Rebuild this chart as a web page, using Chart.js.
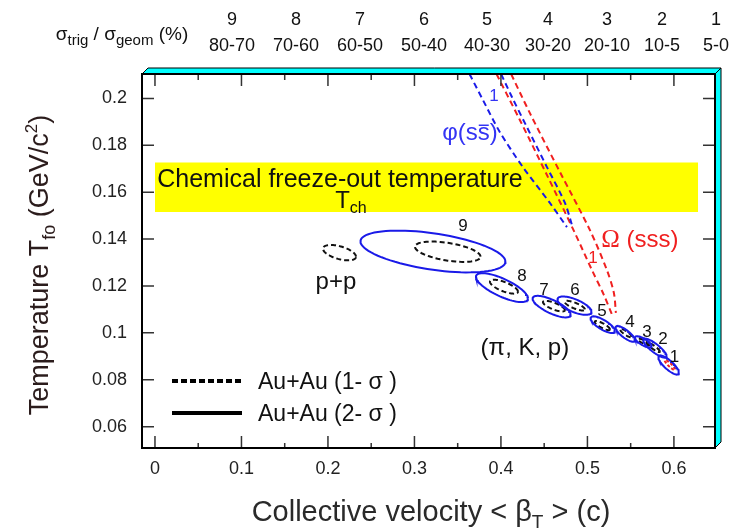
<!DOCTYPE html>
<html>
<head>
<meta charset="utf-8">
<title>Freeze-out temperature vs collective velocity</title>
<script src="https://cdn.jsdelivr.net/npm/chart.js@4.4.1/dist/chart.umd.min.js"></script>
<style>
  body { margin: 0; background: #fff; }
  canvas { display: block; }
</style>
</head>
<body>
<canvas id="jsChart" width="731" height="528"></canvas>
<script>
// tick values
const xTicks = [0, 0.1, 0.2, 0.3, 0.4, 0.5, 0.6];
const xMinorTicks = [0.05, 0.15, 0.25, 0.35, 0.45, 0.55];
const yTicks = [0.06, 0.08, 0.1, 0.12, 0.14, 0.16, 0.18, 0.2];

// centrality bins on top
const binNumbers = ['9', '8', '7', '6', '5', '4', '3', '2', '1'];
const binRanges = ['80-70', '70-60', '60-50', '50-40', '40-30', '30-20', '20-10', '10-5', '5-0'];

// Au+Au 2-sigma contours (bins 9 -> 1)
// centre, offset to right-most point (dx, dy), vertical half-chord at the centre
const sig2X = [0.3214, 0.4012, 0.4586, 0.485, 0.5177, 0.5437, 0.5645, 0.578, 0.5939];
const sig2Y = [0.1347, 0.1193, 0.1112, 0.1116, 0.1035, 0.0996, 0.0962, 0.0935, 0.0863];
const sig2Dx = [0.0838, 0.0301, 0.022, 0.0197, 0.0141, 0.0112, 0.0096, 0.0135, 0.0119];
const sig2Dy = [-0.0043, -0.0046, -0.0034, -0.0026, -0.0027, -0.0027, -0.0018, -0.0034, -0.0033];
const sig2H = [0.0078, 0.0041, 0.0031, 0.0029, 0.0023, 0.002, 0.0016, 0.0022, 0.0024];

// Au+Au 1-sigma contours (bins 9 -> 2)
const sig1X = [0.3385, 0.4035, 0.4613, 0.4855, 0.5173, 0.5445, 0.5653, 0.5761];
const sig1Y = [0.1346, 0.1197, 0.1114, 0.1116, 0.1031, 0.0999, 0.0961, 0.0939];
const sig1Dx = [0.0379, 0.0162, 0.0127, 0.0116, 0.0087, 0.0069, 0.0067, 0.0077];
const sig1Dy = [-0.0021, -0.0021, -0.0017, -0.0016, -0.0016, -0.0016, -0.0012, -0.0019];
const sig1H = [0.0038, 0.0021, 0.0015, 0.0013, 0.0011, 0.0009, 0.0008, 0.0009];

// p+p 1-sigma contour and the small red contour in bin 1
const ppContour = [0.2133, 0.1342, 0.0191, -0.0017, 0.0028];
const omegaBin1 = [0.5954, 0.0863, 0.006, -0.0019, 0.0009];

// phi and Omega 1-sigma bands (edges)
const phiLeftX = [0.3584, 0.3792, 0.3988, 0.4254, 0.4566, 0.4763];
const phiLeftY = [0.2142, 0.1993, 0.1856, 0.1707, 0.1554, 0.1451];
const phiRightX = [0.3954, 0.4127, 0.4301, 0.4532, 0.474, 0.4821];
const phiRightY = [0.2142, 0.2006, 0.1877, 0.1707, 0.1554, 0.146];
const omegaLeftX = [0.3896, 0.422, 0.4532, 0.4855, 0.5052, 0.5191, 0.5295];
const omegaLeftY = [0.2142, 0.1907, 0.1673, 0.1426, 0.1268, 0.1161, 0.1068];
const omegaRightX = [0.4069, 0.4335, 0.4682, 0.5029, 0.5225, 0.5306, 0.5329];
const omegaRightY = [0.2142, 0.1937, 0.1686, 0.1438, 0.1268, 0.117, 0.1085];

// chemical freeze-out band
const bandX = [0, 0.628];
const bandLow = 0.1515;
const bandHigh = 0.1727;

// text notes inside the plot (data coordinates of the text centre)
const binLabelX = [0.3561, 0.4243, 0.4497, 0.4855, 0.5168, 0.5491, 0.5688, 0.5873, 0.6006];
const binLabelY = [0.146, 0.1246, 0.1187, 0.1187, 0.1097, 0.1052, 0.1008, 0.098, 0.0903];

const FONT = '"Liberation Sans", Arial, sans-serif';
const SERIF = '"Liberation Serif", "Times New Roman", serif';
const BLUE = '#1a1ae8';
const RED = '#f02020';

// ellipse outline from centre / conjugate half-diameters
const contour = (cx, cy, dx, dy, h) => {
  const pts = [];
  for (let k = 0; k <= 80; k++) {
    const t = (k / 80) * 2 * Math.PI;
    pts.push({ x: cx + dx * Math.cos(t), y: cy + dy * Math.cos(t) + h * Math.sin(t) });
  }
  return pts;
};

const zip = (xs, ys) => xs.map((x, i) => ({ x: x, y: ys[i] }));

const lineSet = (data, color, dash, width) => ({
  data: data,
  showLine: true,
  borderColor: color,
  borderWidth: width,
  borderDash: dash,
  pointRadius: 0,
  pointHoverRadius: 0,
  fill: false,
  tension: 0,
});

const datasets = [];

// yellow band, drawn behind everything
datasets.push({
  data: [{ x: bandX[0], y: bandHigh }, { x: bandX[1], y: bandHigh }],
  showLine: true,
  borderWidth: 0,
  borderColor: 'rgba(0,0,0,0)',
  backgroundColor: '#ffff00',
  fill: { value: bandLow },
  pointRadius: 0,
  order: 10,
});

sig2X.forEach((cx, i) => {
  datasets.push(lineSet(contour(cx, sig2Y[i], sig2Dx[i], sig2Dy[i], sig2H[i]), BLUE, [], 2));
});
sig1X.forEach((cx, i) => {
  datasets.push(lineSet(contour(cx, sig1Y[i], sig1Dx[i], sig1Dy[i], sig1H[i]), '#111', [5, 3], 2));
});
datasets.push(lineSet(contour(...ppContour), '#111', [5, 3], 2));
datasets.push(lineSet(contour(...omegaBin1), RED, [3, 2], 2));

const phiSet = (xs, ys) => Object.assign(lineSet(zip(xs, ys), BLUE, [6, 4], 2), { tension: 0.3 });
const omegaSet = (xs, ys) => Object.assign(lineSet(zip(xs, ys), RED, [6, 4], 2), { tension: 0.3 });
datasets.push(phiSet(phiLeftX, phiLeftY));
datasets.push(phiSet(phiRightX, phiRightY));
datasets.push(omegaSet(omegaLeftX, omegaLeftY));
datasets.push(omegaSet(omegaRightX, omegaRightY));

// text with sub/superscripts: parts = [{t, size, dy, family, over}]
const drawRich = (ctx, parts, x, y, align) => {
  let w = 0;
  parts.forEach((p) => {
    ctx.font = p.size + 'px ' + (p.family || FONT);
    p.w = ctx.measureText(p.t).width;
    w += p.w;
  });
  let cx = align === 'center' ? x - w / 2 : align === 'right' ? x - w : x;
  ctx.textAlign = 'left';
  ctx.textBaseline = 'alphabetic';
  parts.forEach((p) => {
    ctx.font = p.size + 'px ' + (p.family || FONT);
    ctx.fillText(p.t, cx, y + (p.dy || 0));
    if (p.over) {
      // overline (s-bar)
      const s = ctx.measureText(p.over).width;
      ctx.save();
      ctx.strokeStyle = ctx.fillStyle;
      ctx.lineWidth = 1.5;
      ctx.beginPath();
      ctx.moveTo(cx + p.w - s + 1, y - p.size * 0.62);
      ctx.lineTo(cx + p.w - 1, y - p.size * 0.62);
      ctx.stroke();
      ctx.restore();
    }
    cx += p.w;
  });
};

const framePlugin = {
  id: 'framePlugin',
  afterDraw(chart) {
    const ctx = chart.ctx;
    const { left, right, top, bottom } = chart.chartArea;
    const xs = chart.scales.x;
    const ys = chart.scales.y;
    const px = (v) => xs.getPixelForValue(v);
    const py = (v) => ys.getPixelForValue(v);
    ctx.save();

    // notes in the plot
    ctx.fillStyle = '#111';
    drawRich(ctx, [{ t: 'Chemical freeze-out temperature', size: 25 }], px(0.2139), py(0.166) + 9, 'center');
    drawRich(ctx, [{ t: 'T', size: 24 }, { t: 'ch', size: 16, dy: 5 }], px(0.2266), py(0.1566) + 8, 'center');
    binNumbers.forEach((n, i) => {
      drawRich(ctx, [{ t: n, size: 17 }], px(binLabelX[i]), py(binLabelY[i]) + 6, 'center');
    });
    drawRich(ctx, [{ t: 'p+p', size: 24 }], px(0.2092), py(0.1221) + 8, 'center');
    drawRich(ctx, [{ t: '(\u03c0, K, p)', size: 24 }], px(0.4277), py(0.0939) + 8, 'center');

    ctx.fillStyle = '#3434f4';
    drawRich(ctx, [{ t: '\u03c6', size: 24 }, { t: '(ss', size: 24, over: 's' }, { t: ')', size: 24 }], px(0.3642), py(0.1856) + 8, 'center');
    drawRich(ctx, [{ t: '1', size: 17 }], px(0.3919), py(0.2014) + 6, 'center');
    ctx.fillStyle = RED;
    drawRich(ctx, [{ t: '\u03a9', size: 25, family: SERIF }, { t: ' (sss)', size: 24 }], px(0.5607), py(0.14) + 8, 'center');
    drawRich(ctx, [{ t: '1', size: 17 }], px(0.5064), py(0.1323) + 6, 'center');

    // legend
    ctx.strokeStyle = '#000';
    ctx.lineWidth = 4;
    ctx.setLineDash([6, 3]);
    ctx.beginPath(); ctx.moveTo(172, 381); ctx.lineTo(241, 381); ctx.stroke();
    ctx.setLineDash([]);
    ctx.beginPath(); ctx.moveTo(172, 413); ctx.lineTo(242, 413); ctx.stroke();
    ctx.fillStyle = '#111';
    drawRich(ctx, [{ t: 'Au+Au (1- \u03c3 )', size: 23 }], 258, 389, 'left');
    drawRich(ctx, [{ t: 'Au+Au (2- \u03c3 )', size: 23 }], 258, 421, 'left');

    // ticks (pointing inward on all four sides)
    ctx.strokeStyle = '#333';
    ctx.lineWidth = 1.5;
    ctx.beginPath();
    xTicks.forEach((v) => {
      const x = px(v);
      ctx.moveTo(x, bottom); ctx.lineTo(x, bottom - 12);
      ctx.moveTo(x, top); ctx.lineTo(x, top + 12);
    });
    xMinorTicks.forEach((v) => {
      const x = px(v);
      ctx.moveTo(x, bottom); ctx.lineTo(x, bottom - 5);
      ctx.moveTo(x, top); ctx.lineTo(x, top + 6);
    });
    yTicks.forEach((v) => {
      const y = py(v);
      ctx.moveTo(left, y); ctx.lineTo(left + 12, y);
      ctx.moveTo(right, y); ctx.lineTo(right - 12, y);
    });
    ctx.stroke();

    // frame with the cyan 3D edges
    ctx.fillStyle = '#00ffff';
    ctx.strokeStyle = '#000';
    ctx.lineWidth = 1;
    ctx.beginPath();
    ctx.moveTo(left, top); ctx.lineTo(left + 6, top - 6); ctx.lineTo(right + 6, top - 6); ctx.lineTo(right, top);
    ctx.closePath(); ctx.fill(); ctx.stroke();
    ctx.beginPath();
    ctx.moveTo(right, top); ctx.lineTo(right + 6, top - 6); ctx.lineTo(right + 6, bottom - 6); ctx.lineTo(right, bottom);
    ctx.closePath(); ctx.fill(); ctx.stroke();
    ctx.lineWidth = 2;
    ctx.strokeRect(left, top, right - left, bottom - top);

    // top centrality labels
    ctx.fillStyle = '#111';
    const binPx = [232, 296, 360, 424, 487, 548, 607, 662, 716];
    binNumbers.forEach((n, i) => {
      drawRich(ctx, [{ t: n, size: 18 }], binPx[i], 25, 'center');
      drawRich(ctx, [{ t: binRanges[i], size: 18 }], binPx[i], 51, 'center');
    });
    drawRich(ctx, [
      { t: '\u03c3', size: 19 }, { t: 'trig', size: 15, dy: 5 }, { t: ' / ', size: 19 },
      { t: '\u03c3', size: 19 }, { t: 'geom', size: 15, dy: 5 }, { t: ' (%)', size: 19 },
    ], 122, 40, 'center');

    // axis titles
    ctx.fillStyle = '#2a2a2a';
    drawRich(ctx, [
      { t: 'Collective velocity < \u03b2', size: 29 }, { t: 'T', size: 19, dy: 7 }, { t: ' > (c)', size: 29 },
    ], 431, 521, 'center');
    ctx.translate(48, 265);
    ctx.rotate(-Math.PI / 2);
    ctx.fillStyle = '#2b1c1c';
    drawRich(ctx, [
      { t: 'Temperature T', size: 27 }, { t: 'fo', size: 18, dy: 7 }, { t: ' (GeV/c', size: 27 },
      { t: '2', size: 17, dy: -11 }, { t: ')', size: 27 },
    ], 0, 0, 'center');
    ctx.restore();
  },
};

const fmt = (v) => String(+v.toFixed(2));

new Chart(document.getElementById('jsChart'), {
  type: 'scatter',
  data: { datasets: datasets },
  plugins: [framePlugin],
  options: {
    responsive: false,
    animation: false,
    devicePixelRatio: 1,
    events: [],
    layout: { padding: { top: 74, right: 16, left: 0, bottom: 0 } },
    plugins: { legend: { display: false }, tooltip: { enabled: false } },
    scales: {
      x: {
        type: 'linear',
        min: -0.015,
        max: 0.6475,
        grid: { display: false, drawTicks: false },
        border: { display: false },
        afterBuildTicks: (s) => { s.ticks = xTicks.map((v) => ({ value: v })); },
        afterFit: (s) => { s.height = 80; },
        ticks: {
          padding: 10,
          color: '#222',
          font: { family: FONT, size: 18 },
          maxRotation: 0,
          autoSkip: false,
          callback: fmt,
        },
      },
      y: {
        type: 'linear',
        min: 0.0509,
        max: 0.2104,
        grid: { display: false, drawTicks: false },
        border: { display: false },
        afterBuildTicks: (s) => { s.ticks = yTicks.map((v) => ({ value: v })); },
        afterFit: (s) => { s.width = 142; },
        ticks: {
          padding: 15,
          color: '#222',
          font: { family: FONT, size: 18 },
          autoSkip: false,
          callback: fmt,
        },
      },
    },
  },
});
</script>
</body>
</html>
